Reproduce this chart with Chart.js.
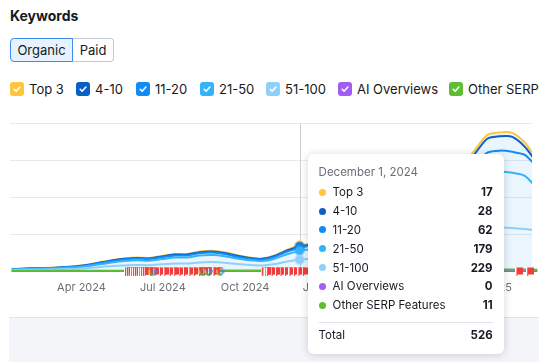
<!DOCTYPE html>
<html>
<head>
<meta charset="utf-8">
<script src="https://cdn.jsdelivr.net/npm/chart.js@4.4.1/dist/chart.umd.min.js"></script>
<style>
  html, body { margin: 0; padding: 0; background: #fff; width: 539px; height: 362px; overflow: hidden; }
  body { font-family: Inter, "Noto Sans", sans-serif; color: #171a22; }
  #page { position: relative; width: 539px; height: 362px; overflow: hidden; }
  h2 { position: absolute; left: 10px; top: 7px; margin: 0; font-size: 14px; line-height: 17px; font-weight: 700; }
  .seg { position: absolute; left: 10px; top: 38px; display: flex; }
  .seg span { display: block; box-sizing: border-box; height: 24px; line-height: 22px; font-size: 13px; text-align: center; border: 1px solid #c5c8d0; }
  .seg .on { width: 63px; background: #e6f2ff; border-color: #3d8ef2; border-radius: 4px 0 0 4px; }
  .seg .off { width: 41px; border-left: none; border-radius: 0 4px 4px 0; }
  .legend { position: absolute; left: 0; top: 82px; width: 539px; height: 14px; font-size: 13px; line-height: 14px; white-space: nowrap; }
  .legend .item { position: absolute; top: 0; display: flex; align-items: center; gap: 5px; }
  .legend .cb { width: 14px; height: 14px; border-radius: 3px; display: block; }
  #wrap { position: absolute; left: 0; top: 110px; width: 539px; height: 200px; }
  #footer { position: absolute; left: 9px; top: 317px; right: 0; bottom: 0; background: #f4f5f9; border-top: 1px solid #e3e4ea; }
  #tip { position: absolute; display: none; width: 196px; box-sizing: border-box; background: #fff; border-radius: 6px;
         box-shadow: 0 1px 8px rgba(23, 26, 34, 0.18); padding: 10px 11px; font-size: 11.5px; }
  #tip .t { color: #6c6e79; height: 16px; line-height: 16px; margin-bottom: 3px; }
  #tip .r { display: flex; align-items: center; height: 18.8px; }
  #tip .d { width: 7px; height: 7px; border-radius: 50%; margin-right: 7px; }
  #tip .v { margin-left: auto; font-weight: 700; }
  #tip .sep { border-top: 1px solid #e0e1e9; margin: 7px 0 3px; }
</style>
</head>
<body>
<div id="page">
  <h2>Keywords</h2>
  <div class="seg"><span class="on">Organic</span><span class="off">Paid</span></div>
  <div class="legend" id="legend"></div>
  <div id="wrap"><canvas id="kwChart"></canvas></div>
  <div id="footer"></div>
  <div id="tip"></div>
</div>
<script>
// données (toutes les deux semaines)
const dates = [
  '2024-01-14', '2024-01-28', '2024-02-11', '2024-02-25', '2024-03-10', '2024-03-24', '2024-04-07', '2024-04-21',
  '2024-05-05', '2024-05-19', '2024-06-02', '2024-06-16', '2024-06-30', '2024-07-14', '2024-07-28', '2024-08-11',
  '2024-08-25', '2024-09-08', '2024-09-22', '2024-10-06', '2024-10-20', '2024-11-03', '2024-11-17', '2024-12-01',
  '2024-12-15', '2024-12-29', '2025-01-12', '2025-01-26', '2025-02-09', '2025-02-23', '2025-03-09', '2025-03-23',
  '2025-04-06', '2025-04-20', '2025-05-04', '2025-05-18', '2025-06-01', '2025-06-15', '2025-06-29', '2025-07-13',
  '2025-07-27', '2025-08-10', '2025-08-24'
];
const top3 = [2, 2, 2, 2, 3, 4, 5, 7, 9, 8, 9, 9, 10, 12, 12, 13, 14, 13, 11, 9, 9, 11, 15, 17, 18, 19, 20, 22, 25, 28, 32, 35, 40, 45, 50, 55, 65, 75, 80, 80, 80, 83, 70];
const pos4_10 = [2, 3, 4, 4, 5, 6, 8, 10, 13, 14, 15, 14, 17, 19, 19, 22, 23, 21, 18, 15, 14, 17, 23, 28, 26, 31, 35, 36, 40, 42, 48, 55, 65, 80, 100, 130, 165, 215, 280, 290, 305, 162, 80];
const pos11_20 = [5, 6, 7, 8, 10, 11, 15, 21, 27, 31, 33, 32, 37, 42, 41, 47, 49, 45, 38, 33, 30, 37, 52, 62, 68, 75, 80, 92, 105, 120, 135, 155, 175, 200, 230, 265, 310, 370, 420, 430, 425, 425, 430];
const pos21_50 = [13, 16, 20, 22, 26, 31, 41, 58, 74, 88, 96, 92, 106, 120, 121, 139, 144, 134, 112, 96, 89, 110, 148, 179, 200, 225, 250, 285, 325, 375, 425, 480, 540, 605, 680, 760, 860, 990, 1110, 1130, 1117, 1080, 850];
const pos51_100 = [18, 23, 27, 29, 36, 43, 56, 79, 100, 114, 122, 118, 135, 152, 152, 174, 180, 167, 141, 122, 113, 140, 192, 229, 248, 270, 295, 325, 355, 385, 420, 455, 500, 550, 600, 660, 720, 800, 870, 880, 873, 850, 820];
const aiOverviews = [0, 0, 0, 0, 0, 0, 0, 0, 0, 0, 0, 0, 0, 0, 0, 0, 0, 0, 0, 0, 0, 0, 0, 0, 0, 0, 0, 0, 0, 0, 0, 0, 0, 0, 0, 0, 0, 0, 0, 0, 0, 0, 0];
const otherSerp = [3, 3, 4, 4, 4, 5, 5, 6, 6, 7, 7, 7, 8, 8, 8, 9, 9, 9, 8, 8, 8, 9, 10, 11, 12, 13, 14, 15, 16, 17, 18, 19, 20, 21, 22, 24, 26, 28, 30, 30, 29, 28, 26];

// notes (drapeaux rouges) et mises à jour Google
const flagDates = [
  '2024-05-23', '2024-05-25', '2024-05-27', '2024-05-30', '2024-06-01', '2024-06-03', '2024-06-05', '2024-06-08',
  '2024-06-10', '2024-06-12', '2024-06-14', '2024-06-20', '2024-06-25', '2024-07-01', '2024-07-06', '2024-07-12',
  '2024-07-17', '2024-07-23', '2024-07-28', '2024-08-03', '2024-08-08', '2024-08-14', '2024-08-19', '2024-08-25',
  '2024-08-30', '2024-10-23', '2024-10-25', '2024-10-27', '2024-10-29', '2024-11-03', '2024-11-08', '2024-11-13',
  '2024-11-18', '2024-11-23', '2024-11-28', '2024-12-03', '2024-12-08', '2025-08-04', '2025-08-16'
];
const googleDates = ['2024-06-19', '2024-08-14', '2024-08-21', '2024-09-03'];

const tickDates = ['2024-04-01', '2024-07-01', '2024-10-01', '2025-01-01', '2025-04-01', '2025-07-01'];
const tickLabels = ['Apr 2024', 'Jul 2024', 'Oct 2024', 'Jan 2025', 'Apr 2025', 'Jul 2025'];
const startDate = '2024-01-12';
const endDate = '2025-08-18';
const hoverDate = '2024-12-01';

const colors = {
  top3: '#ffc53d', p4: '#0a5fc5', p11: '#0f8cf5', p21: '#35b3fa', p51: '#8fd0fb', ai: '#a15ef2', serp: '#5dbd34'
};

// jours depuis le début
function day(s) {
  return (Date.parse(s) - Date.parse(startDate)) / 86400000;
}

// légende en cases à cocher
const legendItems = [
  ['Top 3', colors.top3], ['4-10', colors.p4], ['11-20', colors.p11], ['21-50', colors.p21],
  ['51-100', colors.p51], ['AI Overviews', colors.ai], ['Other SERP Features', colors.serp]
];
const legendLeft = [10, 76, 136, 200, 266, 338, 449];
const check = '<svg class="cb" viewBox="0 0 14 14" style="background:COL"><path d="M4.2 7.3l1.9 1.9 3.8-4.2" stroke="#fff" stroke-width="1.6" fill="none" stroke-linecap="round" stroke-linejoin="round"/></svg>';
document.getElementById('legend').innerHTML = legendItems.map(([name, col], i) =>
  `<span class="item" style="left:${legendLeft[i]}px">${check.replace('COL', col)}<span>${name}</span></span>`).join('');

// icônes
function makeFlag() {
  const c = document.createElement('canvas');
  c.width = 8; c.height = 9;
  const g = c.getContext('2d');
  g.fillStyle = '#f43b3b';
  g.fillRect(1, 1, 7, 7);
  g.fillRect(1, 8, 1, 1);
  g.fillStyle = '#ffffff';
  g.fillRect(0, 1, 1, 8);
  return c;
}
function makeG() {
  const c = document.createElement('canvas');
  c.width = 9; c.height = 9;
  const g = c.getContext('2d');
  g.lineWidth = 1.7;
  const arcs = [['#4285f4', -0.3, 0.8], ['#34a853', 0.8, 2.3], ['#fbbc05', 2.3, 3.6], ['#ea4335', 3.6, 5.6]];
  arcs.forEach(([col, a, b]) => {
    g.strokeStyle = col; g.beginPath(); g.arc(4.5, 4.5, 3.3, a, b); g.stroke();
  });
  g.fillStyle = '#4285f4';
  g.fillRect(4.5, 3.7, 3.8, 1.6);
  return c;
}

function serie(label, values, color, halo, fill) {
  return {
    label: label,
    data: values.map((v, i) => ({ x: day(dates[i]), y: v })),
    borderColor: color,
    backgroundColor: 'rgba(20, 140, 245, 0.09)',
    borderWidth: 2,
    fill: fill,
    stack: 'kw',
    tension: 0.25,
    pointRadius: 0,
    pointHoverRadius: 4,
    pointHoverBackgroundColor: color,
    pointHoverBorderColor: halo,
    pointHoverBorderWidth: 3
  };
}

const datasets = [
  {
    label: 'google', data: googleDates.map(d => ({ x: day(d), y: 0 })), stack: 'g',
    showLine: false, pointStyle: makeG(), pointRadius: 4, pointHoverRadius: 4, clip: false
  },
  {
    label: 'notes', data: flagDates.map(d => ({ x: day(d), y: 0 })), stack: 'flags',
    showLine: false, pointStyle: makeFlag(), pointRadius: 4, pointHoverRadius: 4, clip: false
  },
  {
    label: 'Other SERP Features', data: otherSerp.map((v, i) => ({ x: day(dates[i]), y: v })), stack: 'serp',
    borderColor: colors.serp, borderWidth: 2, pointRadius: 0, tension: 0.25, fill: false, clip: false
  },
  {
    label: 'AI Overviews', data: aiOverviews.map((v, i) => ({ x: day(dates[i]), y: v })), stack: 'ai',
    borderColor: colors.ai, borderWidth: 2, pointRadius: 0, tension: 0.25, fill: false, clip: false
  },
  serie('51-100', pos51_100, colors.p51, 'rgba(143, 208, 251, 0.4)', 'origin'),
  serie('21-50', pos21_50, colors.p21, 'rgba(53, 179, 250, 0.35)', '-1'),
  serie('11-20', pos11_20, colors.p11, 'rgba(15, 140, 245, 0.35)', '-1'),
  serie('4-10', pos4_10, colors.p4, 'rgba(10, 95, 197, 0.35)', '-1'),
  serie('Top 3', top3, colors.top3, 'rgba(255, 197, 61, 0.4)', '-1')
];

// infobulle HTML
function infobulle(context) {
  const tip = context.tooltip;
  const el = document.getElementById('tip');
  if (tip.opacity === 0 || !tip.dataPoints || !tip.dataPoints.length) {
    el.style.display = 'none';
    return;
  }
  const i = tip.dataPoints[0].dataIndex;
  const rows = [
    ['Top 3', colors.top3, top3[i]], ['4-10', colors.p4, pos4_10[i]], ['11-20', colors.p11, pos11_20[i]],
    ['21-50', colors.p21, pos21_50[i]], ['51-100', colors.p51, pos51_100[i]], ['AI Overviews', colors.ai, aiOverviews[i]],
    ['Other SERP Features', colors.serp, otherSerp[i]]
  ];
  const total = rows.reduce((s, r) => s + r[2], 0);
  const titre = new Date(Date.parse(dates[i])).toLocaleDateString('en-US', { month: 'long', day: 'numeric', year: 'numeric', timeZone: 'UTC' });
  el.innerHTML = `<div class="t">${titre}</div>` +
    rows.map(r => `<div class="r"><span class="d" style="background:${r[1]}"></span><span>${r[0]}</span><span class="v">${r[2]}</span></div>`).join('') +
    `<div class="sep"></div><div class="r"><span>Total</span><span class="v">${total}</span></div>`;
  const chart = context.chart;
  const wrap = document.getElementById('wrap');
  el.style.display = 'block';
  el.style.left = (wrap.offsetLeft + tip.caretX + 8) + 'px';
  el.style.top = (wrap.offsetTop + chart.chartArea.top + 31) + 'px';
}

// ligne verticale de survol
const ligneSurvol = {
  id: 'ligneSurvol',
  beforeDatasetsDraw(chart) {
    const actifs = chart.tooltip ? chart.tooltip.getActiveElements() : [];
    if (!actifs.length) return;
    const x = Math.round(actifs[0].element.x) + 0.5;
    const c = chart.ctx;
    c.save();
    c.strokeStyle = '#cfd0d6';
    c.lineWidth = 1;
    c.beginPath();
    c.moveTo(x, chart.chartArea.top);
    c.lineTo(x, chart.chartArea.bottom);
    c.stroke();
    c.restore();
  }
};

Chart.defaults.font.family = 'Inter, "Noto Sans", sans-serif';

const config = {
  type: 'line',
  data: { datasets: datasets },
  options: {
    responsive: true,
    maintainAspectRatio: false,
    animation: false,
    events: [],
    layout: { padding: { left: 10, right: 7, top: 13, bottom: 0 } },
    plugins: {
      legend: { display: false },
      tooltip: { enabled: false, external: infobulle }
    },
    scales: {
      x: {
        type: 'linear',
        min: 0,
        max: day(endDate),
        grid: { display: false },
        border: { display: false },
        ticks: {
          autoSkip: false, maxRotation: 0, padding: 2, color: '#6c6e79', font: { size: 11 },
          callback: (v, i) => tickLabels[i]
        },
        afterBuildTicks: (s) => { s.ticks = tickDates.map(d => ({ value: day(d) })); },
        afterFit: (s) => { s.height = 39; }
      },
      y: {
        stacked: true,
        min: 0,
        max: 3000,
        ticks: { stepSize: 750, display: false },
        grid: { color: '#e8e9ee', drawTicks: false },
        border: { display: false },
        afterFit: (s) => { s.width = 0; }
      }
    }
  },
  plugins: [ligneSurvol]
};

const ctx = document.getElementById('kwChart').getContext('2d');
const kwChart = new Chart(ctx, config);

// survol du 1er décembre 2024
const hoverIndex = dates.indexOf(hoverDate);
const actifs = [4, 5, 6, 7, 8].map(d => ({ datasetIndex: d, index: hoverIndex }));
kwChart.setActiveElements(actifs);
kwChart.tooltip.setActiveElements(actifs, { x: 0, y: 0 });
kwChart.update();
</script>
</body>
</html>
